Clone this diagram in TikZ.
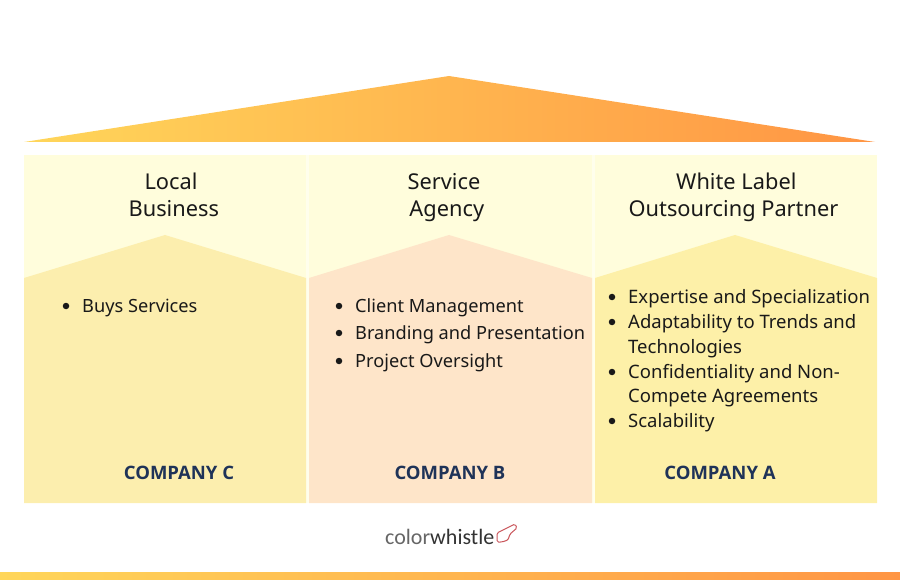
\documentclass[tikz,border=0pt]{standalone}
\usepackage{fontspec}
\setmainfont{Noto Sans}
\newfontfamily\logofont{Carlito}
\newfontfamily\companyfont{Open Sans}
\definecolor{roofleft}{HTML}{FFD65A}
\definecolor{roofright}{HTML}{FF9544}
\definecolor{panelgap}{HTML}{FFFEEC}
\definecolor{panelhead}{HTML}{FFFDDC}
\definecolor{panelc}{HTML}{FCEEAE}
\definecolor{panelb}{HTML}{FEE5C9}
\definecolor{panela}{HTML}{FDF0A8}
\definecolor{companyblue}{HTML}{1F3358}
\definecolor{whistlered}{HTML}{C9555A}
\tikzset{
    headtext/.style={font=\fontsize{21.8}{27}\selectfont,align=center,text=black!90,inner sep=0pt},
    itemtext/.style={font=\fontsize{18.2}{24}\selectfont,anchor=west,text=black!90,inner sep=0pt},
    itemwide/.style={itemtext,font=\fontsize{18.5}{24}\selectfont},
    bulletdot/.style={circle,fill=black!90,minimum size=6.5pt,inner sep=0pt},
    companytext/.style={font=\companyfont\fontsize{18.5}{24}\selectfont\bfseries,text=companyblue,inner sep=0pt}
}
\begin{document}
\begin{tikzpicture}[x=1pt,y=-1pt]
    \useasboundingbox (0,0) rectangle (900,580);

    % roof
    \shade[left color=roofleft,right color=roofright] (24,142) -- (449,76) -- (875,142) -- cycle;

    % pale strips between the panels
    \fill[panelgap] (24,155) rectangle (877,503);

    % upper part of the panels
    \fill[panelhead] (24,155) rectangle (306,300);
    \fill[panelhead] (309,155) rectangle (592,300);
    \fill[panelhead] (595,155) rectangle (877,300);

    % lower part of the panels
    \fill[panelc] (24,278) -- (165,235) -- (306,278) -- (306,503) -- (24,503) -- cycle;
    \fill[panelb] (309,278) -- (449,235) -- (592,278) -- (592,503) -- (309,503) -- cycle;
    \fill[panela] (595,278) -- (735,235) -- (877,278) -- (877,503) -- (595,503) -- cycle;

    % headings
    \node[headtext] (local) at (171,194.5) {Local\\\ Business};
    \node[headtext] (service) at (444,197.5) {Service\\\ Agency};
    \node[headtext] (partner) at (733.5,197.5) {\ White Label\\Outsourcing Partner};

    % company C
    \node[bulletdot] (dotc) at (66,306) {};
    \node[itemtext] (buys) at (82,308) {Buys Services};
    \node[companytext] (companyc) at (179,473) {COMPANY C};

    % company B
    \node[bulletdot] (dotba) at (339,306) {};
    \node[itemtext] (client) at (355,308) {Client Management};
    \node[bulletdot] (dotbb) at (339,333) {};
    \node[itemtext] (branding) at (355,335) {Branding and Presentation};
    \node[bulletdot] (dotbc) at (339,361) {};
    \node[itemtext] (oversight) at (355,363) {Project Oversight};
    \node[companytext] (companyb) at (450,473) {COMPANY B};

    % company A
    \node[bulletdot] (dotaa) at (612,297) {};
    \node[itemwide] (expertise) at (628,299) {Expertise and Specialization};
    \node[bulletdot] (dotab) at (612,322) {};
    \node[itemwide] (trends) at (628,324) {Adaptability to Trends and};
    \node[itemwide] (technologies) at (628,349) {Technologies};
    \node[bulletdot] (dotac) at (612,372) {};
    \node[itemwide] (confidentiality) at (628,374) {Confidentiality and Non-};
    \node[itemwide] (compete) at (628,398) {Compete Agreements};
    \node[bulletdot] (dotad) at (612,421) {};
    \node[itemwide] (scalability) at (628,423) {Scalability};
    \node[companytext] (companya) at (720,473) {COMPANY A};

    % logo
    \node[font=\logofont\fontsize{22}{22}\selectfont,anchor=west,inner sep=0pt] (logo) at (385,537) {\textcolor{black!60}{color}\textcolor{black!80}{whistle}};
    \draw[whistlered,line width=1pt,rounded corners=1.5pt] (497,542) -- (497,533) -- (503,530) -- (515,524) -- (517,528) -- (510,534) -- (508,540) -- (502,542) -- cycle;

    % bottom bar
    \shade[left color=roofleft,right color=roofright] (0,572) rectangle (900,580);
\end{tikzpicture}
\end{document}
